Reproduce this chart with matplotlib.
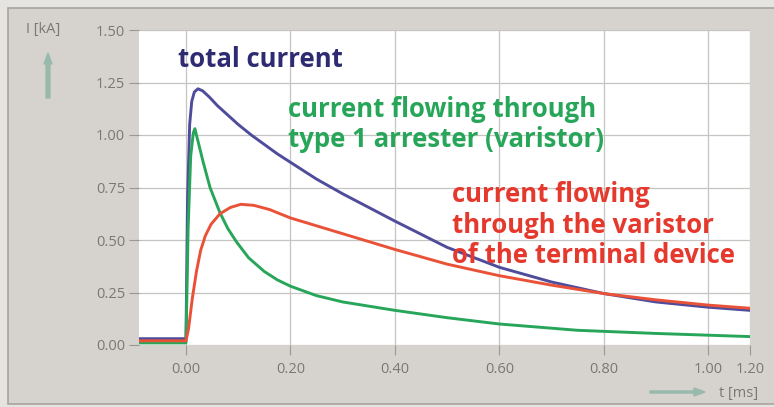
import matplotlib
matplotlib.use("Agg")
import matplotlib.pyplot as plt
from matplotlib.patches import Rectangle, FancyArrow

# time axis in ms, currents in kA
T_TOTAL = [-0.09, 0.0, 0.003, 0.007, 0.011, 0.016, 0.023, 0.032, 0.045, 0.06, 0.08, 0.10,
           0.125, 0.15, 0.175, 0.20, 0.25, 0.30, 0.35, 0.40, 0.50, 0.60, 0.70, 0.80, 0.90,
           1.00, 1.08]
I_TOTAL = [0.03, 0.03, 0.70, 1.05, 1.16, 1.205, 1.22, 1.21, 1.18, 1.14, 1.095, 1.05,
           1.0, 0.955, 0.91, 0.87, 0.79, 0.72, 0.655, 0.59, 0.465, 0.37, 0.30, 0.245, 0.205,
           0.18, 0.165]

T_ARR = [-0.09, 0.0, 0.004, 0.009, 0.014, 0.017, 0.025, 0.033, 0.046, 0.065, 0.08, 0.097,
         0.12, 0.15, 0.175, 0.20, 0.25, 0.30, 0.40, 0.50, 0.60, 0.75, 0.90, 1.08]
I_ARR = [0.01, 0.01, 0.55, 0.90, 1.01, 1.03, 0.95, 0.87, 0.75, 0.63, 0.555, 0.49,
         0.415, 0.35, 0.31, 0.28, 0.235, 0.205, 0.165, 0.13, 0.10, 0.07, 0.055, 0.04]

T_TERM = [-0.09, 0.0, 0.005, 0.012, 0.02, 0.028, 0.037, 0.048, 0.065, 0.085, 0.105, 0.13,
          0.16, 0.20, 0.30, 0.40, 0.50, 0.60, 0.70, 0.80, 0.90, 1.00, 1.08]
I_TERM = [0.02, 0.02, 0.08, 0.22, 0.35, 0.45, 0.52, 0.575, 0.625, 0.655, 0.67, 0.665,
          0.645, 0.605, 0.53, 0.455, 0.385, 0.33, 0.285, 0.245, 0.215, 0.19, 0.175]

XTICKS = [0.0, 0.2, 0.4, 0.6, 0.8, 1.0, 1.08]
XTICKLABELS = ["0.00", "0.20", "0.40", "0.60", "0.80", "1.00", "1.20"]
YTICKS = [0.0, 0.25, 0.5, 0.75, 1.0, 1.25, 1.5]

BG = "#d6d3cf"
C_TOTAL = "#4f4c9c"
C_ARR = "#27a65a"
C_TERM = "#ea5238"
TICK_C = "#7a7876"
ARROW_C = "#98b9ab"

plt.rcParams["font.family"] = ["Open Sans", "DejaVu Sans"]

fig = plt.figure(figsize=(7.74, 4.07), dpi=100, facecolor="#e6e4e1")
# inner panel with a thin darker frame, kept behind the axes
fig.add_artist(Rectangle((8 / 774, 3 / 407), 1 - 8 / 774 + 0.01, 1 - 11 / 407,
                         transform=fig.transFigure, facecolor=BG,
                         edgecolor="#a8a5a1", lw=1.2, zorder=-5))

ax = fig.add_axes([139 / 774, 1 - 345 / 407, 611 / 774, 315 / 407])
ax.set_zorder(1)
ax.set_facecolor("white")
ax.plot(T_TOTAL, I_TOTAL, color=C_TOTAL, lw=2.1, zorder=3)
ax.plot(T_ARR, I_ARR, color=C_ARR, lw=2.1, zorder=4)
ax.plot(T_TERM, I_TERM, color=C_TERM, lw=2.1, zorder=5)

ax.set_xlim(-0.09, 1.08)
ax.set_ylim(0, 1.5)
ax.set_xticks(XTICKS)
ax.set_xticklabels(XTICKLABELS)
ax.set_yticks(YTICKS)
ax.set_yticklabels([f"{v:.2f}" for v in YTICKS])
ax.tick_params(axis="both", colors="#9a9794", labelcolor=TICK_C, labelsize=10.5,
               length=7, width=0.8)
ax.tick_params(axis="x", pad=5)
ax.tick_params(axis="y", pad=3)
ax.grid(True, color="#c6c4c1", lw=0.9)
for s in ax.spines.values():
    s.set_visible(False)

# curve captions
cap = dict(fontsize=18.5, fontweight="bold", va="baseline")
ax.text(-0.015, 1.323, "total current", color="#2e2b72", **cap)
ax.text(0.195, 1.085, "current flowing through", color=C_ARR, **cap)
ax.text(0.195, 0.941, "type 1 arrester (varistor)", color=C_ARR, **cap)
ax.text(0.509, 0.683, "current flowing", color="#e6392e", **cap)
ax.text(0.509, 0.535, "through the varistor", color="#e6392e", **cap)
ax.text(0.509, 0.392, "of the terminal device", color="#e6392e", **cap)

# axis captions with arrows
fig.text(26 / 774, 1 - 30 / 407, "I [kA]", color=TICK_C, fontsize=10.5, va="center")
fig.add_artist(FancyArrow(48 / 774, 1 - 98 / 407, 0, 45 / 407, width=2 / 407,
                          head_width=8 / 774, head_length=11 / 407,
                          transform=fig.transFigure, color=ARROW_C,
                          length_includes_head=True))
fig.text(719 / 774, 1 - 393 / 407, "t [ms]", color=TICK_C, fontsize=10.5, va="center")
fig.add_artist(FancyArrow(650 / 774, 1 - 392 / 407, 55 / 774, 0, width=2 / 407,
                          head_width=8 / 407, head_length=11 / 774,
                          transform=fig.transFigure, color=ARROW_C,
                          length_includes_head=True))

fig.savefig("out.png", dpi=100, facecolor=fig.get_facecolor())
